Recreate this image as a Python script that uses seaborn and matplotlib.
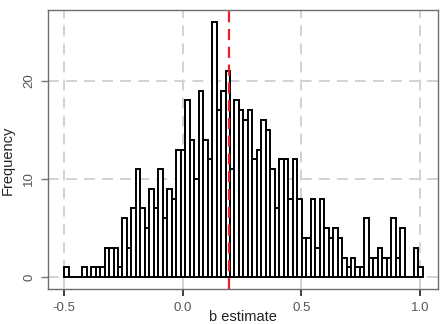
import numpy as np
import pandas as pd
import matplotlib
matplotlib.use("Agg")
import matplotlib.pyplot as plt
import seaborn as sns

# counts per bin (80 equal bins from -0.5 to ~1.01)
counts = [1, 0, 0, 0, 1, 0, 1, 1, 1, 3,
          3, 3, 1, 6, 3, 7, 11, 7, 5, 9,
          7, 11, 6, 9, 8, 13, 13, 18, 14, 10,
          19, 14, 12, 26, 17, 19, 21, 11, 18, 17,
          16, 17, 12, 13, 16, 15, 11, 7, 12, 12,
          8, 12, 8, 4, 4, 8, 3, 8, 5, 4,
          5, 4, 2, 1, 2, 1, 1, 6, 2, 2,
          3, 2, 2, 6, 2, 5, 0, 0, 3, 1]
bin_start = -0.5
bin_end = 1.011
ref_value = 0.195
xticks = [-0.5, 0.0, 0.5, 1.0]
xtick_labels = ["-0.5", "0.0", "0.5", "1.0"]
yticks = [0, 10, 20]

edges = np.linspace(bin_start, bin_end, len(counts) + 1)
centers = (edges[:-1] + edges[1:]) / 2
df = pd.DataFrame({"estimate": centers, "count": counts})

sns.set_style("white")
plt.rcParams["font.family"] = ["Liberation Sans", "DejaVu Sans"]

fig = plt.figure(figsize=(4.45, 3.24), dpi=100)
ax = fig.add_axes([0.107, 0.108, 0.877, 0.861])

sns.histplot(data=df, x="estimate", weights="count", bins=len(counts),
             binrange=(bin_start, bin_end),
             color="white", edgecolor="black", linewidth=1.4, alpha=1,
             ax=ax, zorder=3)

ax.axvline(ref_value, color="#e8202a", ls=(0, (5, 3)), lw=1.6, zorder=4)

ax.set_xlim(-0.57, 1.075)
ax.set_ylim(-1.2, 27.2)
ax.set_xticks(xticks)
ax.set_xticklabels(xtick_labels)
ax.set_yticks(yticks)
ax.set_yticklabels([str(v) for v in yticks], rotation=90, va="center")

ax.set_axisbelow(True)
ax.grid(True, color="#cfcfcf", ls=(0, (6, 4)), lw=1.3)

for s in ax.spines.values():
    s.set_color("#6e6e6e")
    s.set_linewidth(1.0)

ax.tick_params(axis="x", length=5, width=1.3, color="#333333",
               labelsize=9.5, labelcolor="#555555", pad=4)
ax.tick_params(axis="y", length=5, width=1.0, color="#777777",
               labelsize=9.5, labelcolor="#555555", pad=4)
ax.tick_params(left=True, bottom=True)

ax.set_xlabel("")
ax.set_ylabel("")
fig.text(8 / 445, 1 - 160 / 324, "Frequency", rotation=90,
         ha="center", va="center", fontsize=10.5, color="#222222")
fig.text(243 / 445, 0.0, "b estimate", ha="center", va="bottom",
         fontsize=10.5, color="#222222")

fig.savefig("out.png", dpi=100)
